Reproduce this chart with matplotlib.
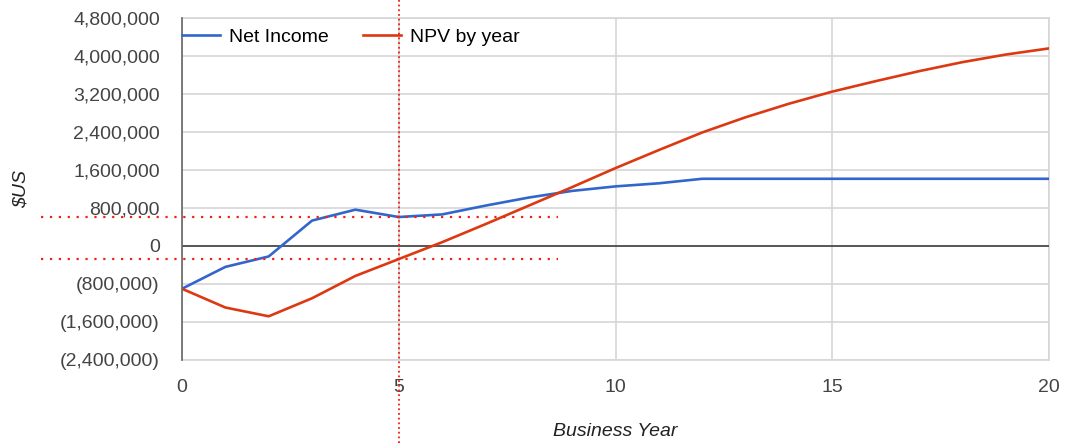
import numpy as np
import matplotlib
matplotlib.use("Agg")
import matplotlib.pyplot as plt
from matplotlib.ticker import FuncFormatter, MultipleLocator
from matplotlib.transforms import blended_transform_factory

# Data
years = list(range(0, 21))
netIncome = [-900000, -440000, -220000, 535000, 765000, 610000, 665000, 850000, 1020000, 1160000,
             1255000, 1320000, 1415000, 1415000, 1415000, 1415000, 1415000, 1415000, 1415000, 1415000, 1415000]
npvByYear = [-900000, -1295000, -1480000, -1100000, -630000, -275000, 80000, 460000, 850000, 1240000,
             1640000, 2020000, 2390000, 2710000, 2995000, 3250000, 3470000, 3680000, 3870000, 4030000, 4160000]
seriesLab = ["Net Income", "NPV by year"]
xLabNam = "Business Year"
yLabNam = "$US"
guideYear = 5

BLUE = "#3366cc"
RED = "#dc3912"
TXT = "#444444"
GRID = "#d6d6d6"

plt.rcParams["font.family"] = ["Liberation Sans", "DejaVu Sans"]

W, H = 1078, 443
fig = plt.figure(figsize=(W / 100, H / 100), dpi=100)
ax = fig.add_axes([182 / W, (H - 360) / H, (1049 - 182) / W, (360 - 18) / H])

ax.plot(years, netIncome, color=BLUE, lw=1.9, label=seriesLab[0], zorder=4)
ax.plot(years, npvByYear, color=RED, lw=1.9, label=seriesLab[1], zorder=4)

ax.set_xlim(0, 20)
ax.set_ylim(-2400000, 4800000)
ax.xaxis.set_major_locator(MultipleLocator(5))
ax.yaxis.set_major_locator(MultipleLocator(800000))


def moneyFmt(v, pos):
    if v < 0:
        return "({:,.0f})".format(-v)
    return "{:,.0f}".format(v)


ax.yaxis.set_major_formatter(FuncFormatter(moneyFmt))
ax.tick_params(axis="both", length=0, labelsize=14, colors=TXT)
ax.tick_params(axis="y", pad=16)
ax.tick_params(axis="x", pad=14)
ax.grid(color=GRID, lw=1.2, zorder=0)
ax.axhline(0, color="#333333", lw=1.1, zorder=3)
for side in ["top", "right", "bottom"]:
    ax.spines[side].set_color(GRID)
    ax.spines[side].set_linewidth(1.2)
ax.spines["left"].set_color("#666666")
ax.spines["left"].set_linewidth(1.2)
ax.spines["left"].set_zorder(5)

fig.text(21 / W, 1 - 189 / H, yLabNam, rotation=90, ha="center", va="center",
         fontsize=14, style="italic", color="#222222")
fig.text(615 / W, 1 - 432 / H, xLabNam, ha="center", va="center",
         fontsize=14, style="italic", color="#222222")

ax.legend(loc="center left", bbox_to_anchor=(182 / W, 1 - 37 / H), bbox_transform=fig.transFigure,
          ncol=2, frameon=False, fontsize=14, borderpad=0, borderaxespad=0,
          handlelength=1.95, handletextpad=0.45, columnspacing=1.8)

# red dotted guide lines at year 5
vTrans = blended_transform_factory(ax.transData, fig.transFigure)
ax.plot([guideYear, guideYear], [0, 1], transform=vTrans, color="#ee2211", lw=1.3,
        linestyle=(0, (1, 1.6)), clip_on=False, zorder=6)
hTrans = blended_transform_factory(fig.transFigure, ax.transData)
for yv in [netIncome[guideYear], npvByYear[guideYear]]:
    ax.plot([41 / W, 558 / W], [yv, yv], transform=hTrans, color="#ee2211", lw=1.6,
            linestyle=(0, (1, 3)), clip_on=False, zorder=6)

fig.savefig("out.png", dpi=100)
